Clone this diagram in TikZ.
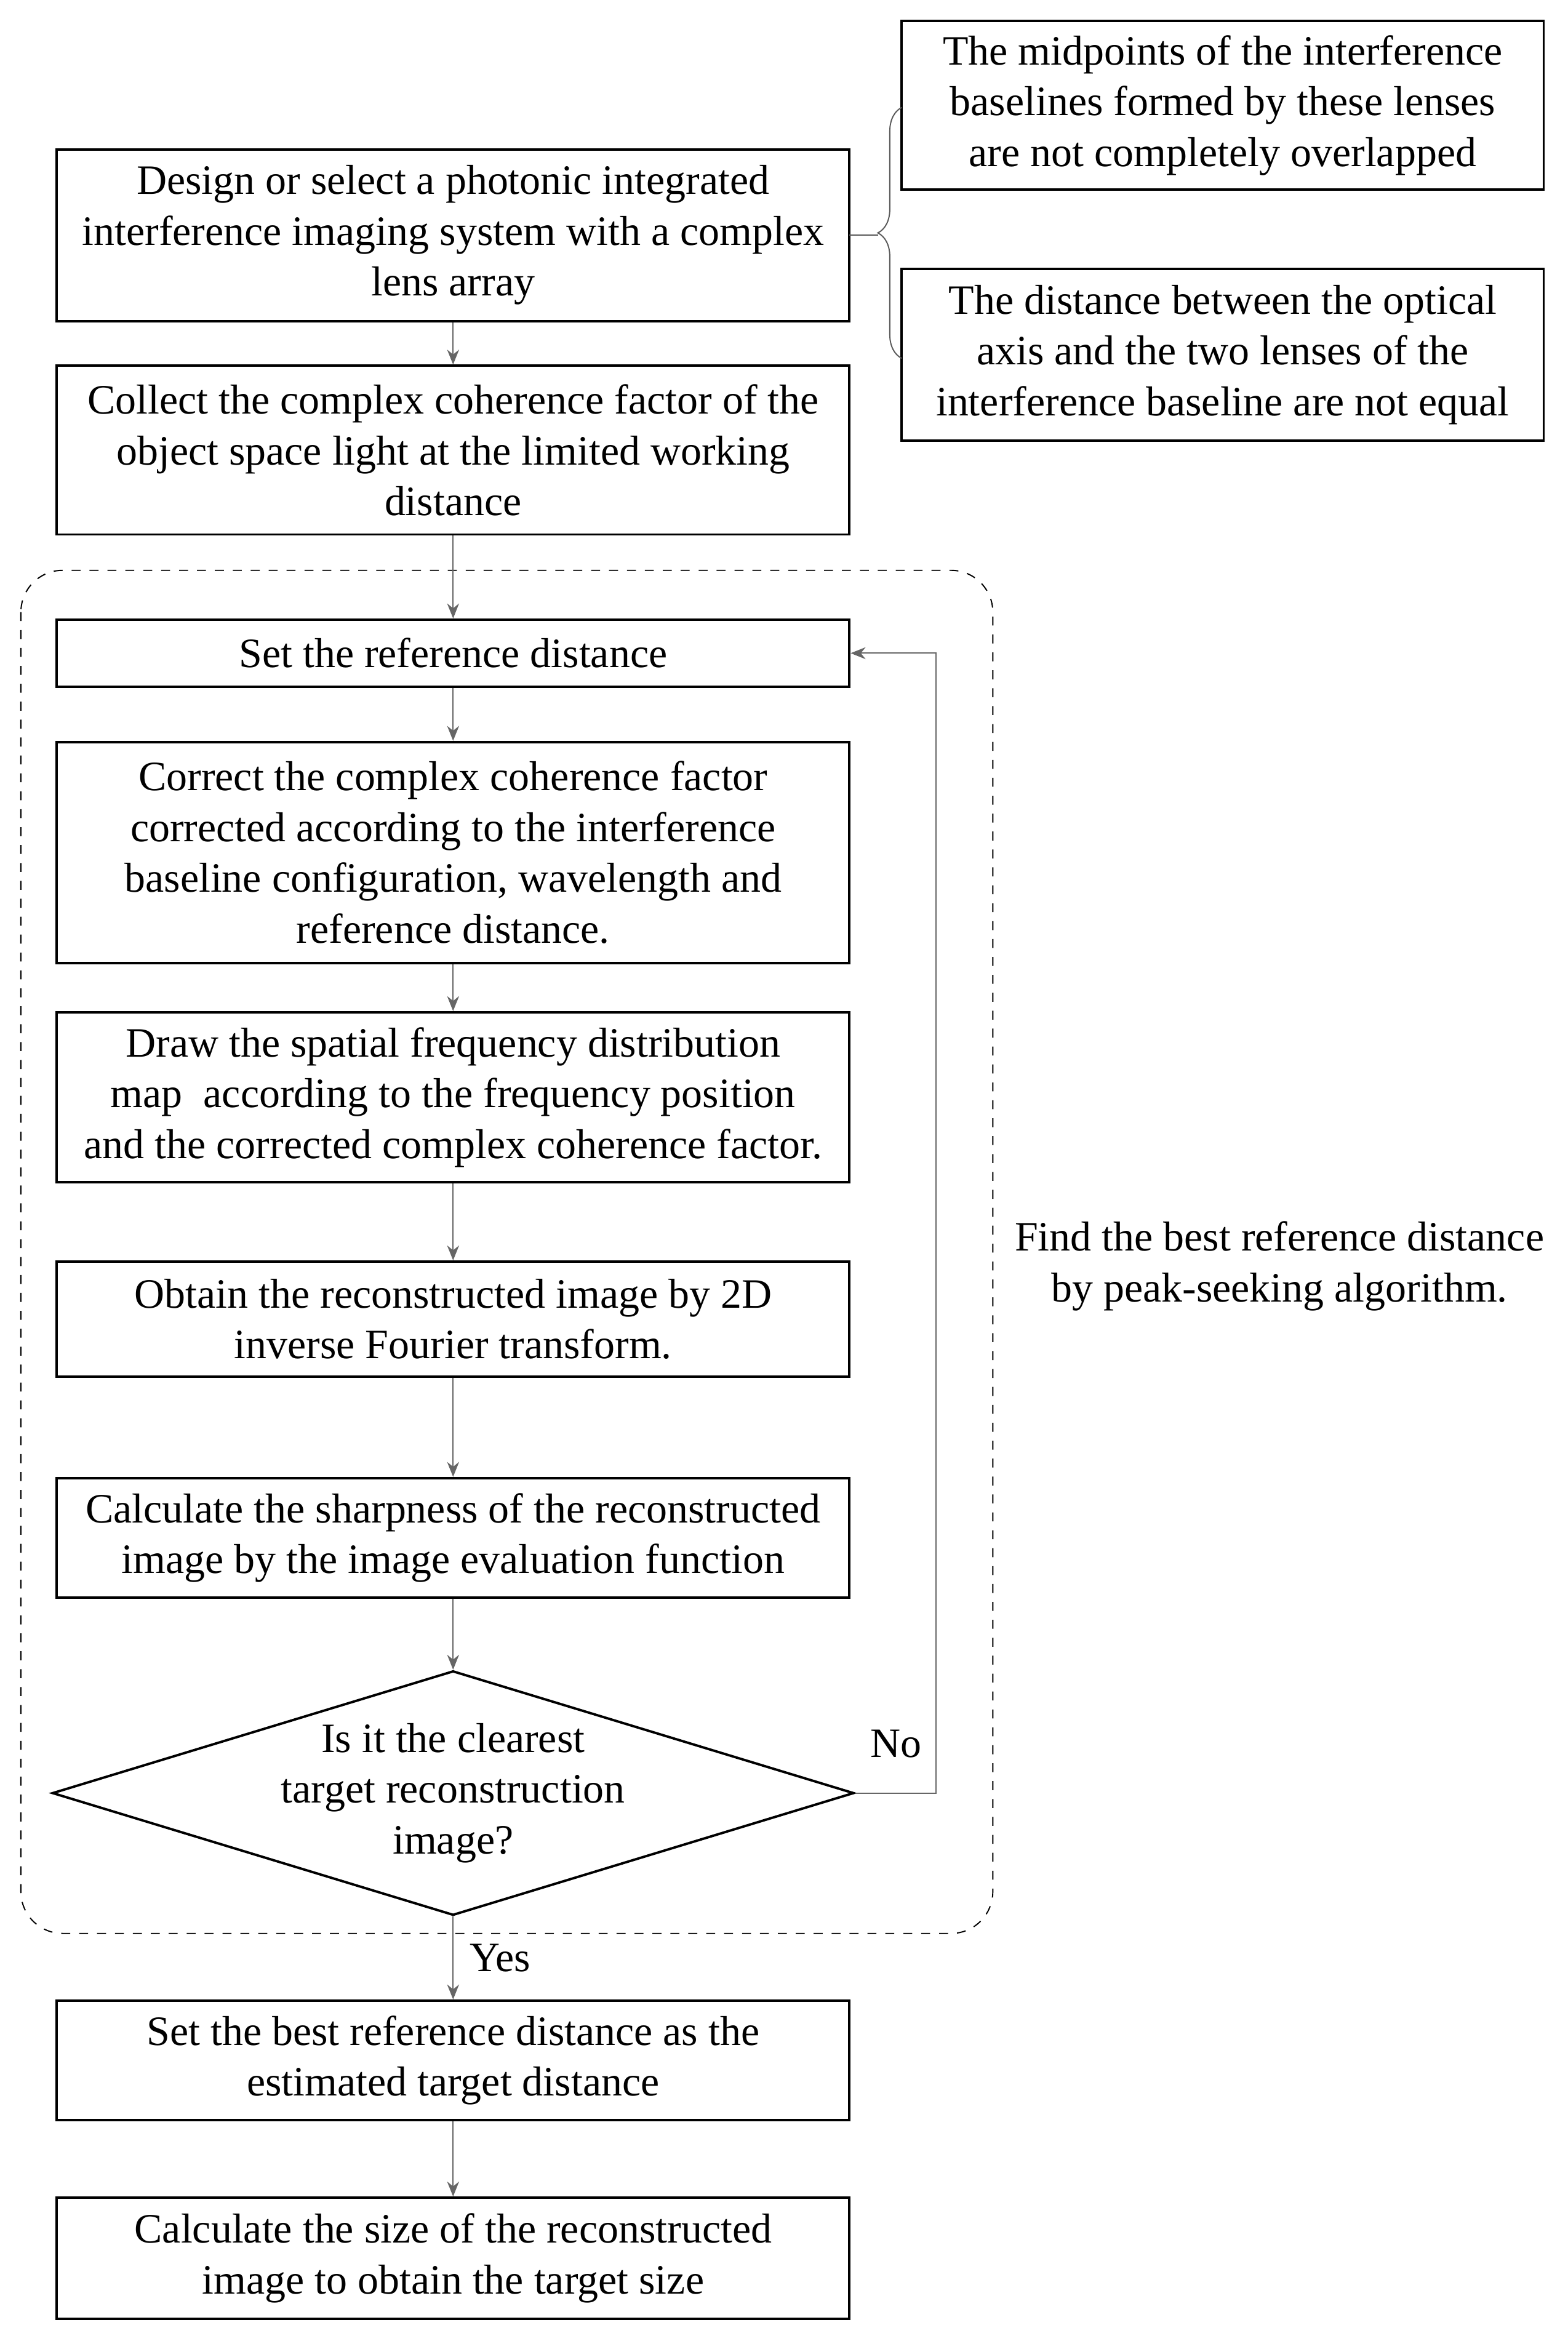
\documentclass[tikz,border=0pt]{standalone}
\usepackage{fontspec}
\setmainfont{Liberation Serif}
\usetikzlibrary{shapes.geometric,arrows.meta,decorations.pathreplacing}
\begin{document}
\begin{tikzpicture}[x=0.5pt,y=-0.5pt,
  box/.style={draw,thick,minimum width=265.5pt,align=center,font=\fontsize{14}{17}\selectfont,inner sep=2pt},
  rbox/.style={draw,thick,minimum width=215pt,align=center,font=\fontsize{14}{17}\selectfont,inner sep=2pt},
  arr/.style={draw=gray!80!black,-{Stealth[length=5pt,width=4pt]}},
  lbl/.style={font=\fontsize{14}{17}\selectfont,align=center}]
\useasboundingbox (0,0) rectangle (1050,1568);
\draw[dashed,rounded corners=14pt] (14,382) rectangle (665,1295);
\node[box,minimum height=57.5pt] (b1) at (303.5,157.5) {Design or select a photonic integrated\\interference imaging system with a complex\\lens array};
\node[rbox,minimum height=56.5pt] (ra) at (819,70.5) {The midpoints of the interference\\baselines formed by these lenses\\are not completely overlapped};
\node[rbox,minimum height=57.5pt] (rb) at (819,237.5) {The distance between the optical\\axis and the two lenses of the\\interference baseline are not equal};
\node[box,minimum height=56.5pt] (b2) at (303.5,301.5) {Collect the complex coherence factor of the\\object space light at the limited working\\distance};
\node[box,minimum height=22.5pt] (b3) at (303.5,437.5) {Set the reference distance};
\node[box,minimum height=74pt] (b4) at (303.5,571) {Correct the complex coherence factor\\corrected according to the interference\\baseline configuration, wavelength and\\reference distance.};
\node[box,minimum height=57pt] (b5) at (303.5,735) {Draw the spatial frequency distribution\\map\ \ according to the frequency position\\and the corrected complex coherence factor.};
\node[box,minimum height=38.5pt] (b6) at (303.5,883.5) {Obtain the reconstructed image by 2D\\inverse Fourier transform.};
\node[box,minimum height=40pt] (b7) at (303.5,1030) {Calculate the sharpness of the reconstructed\\image by the image evaluation function};
\node[draw,thick,diamond,aspect=3.28,minimum width=265.5pt,minimum height=81pt,inner sep=0pt,lbl] (d) at (303.5,1201) {Is it the clearest\\target reconstruction\\image?};
\node[box,minimum height=40pt] (b8) at (303.5,1380) {Set the best reference distance as the\\estimated target distance};
\node[box,minimum height=40.5pt] (b9) at (303.5,1512.5) {Calculate the size of the reconstructed\\image to obtain the target size};
\draw[arr] (b1) -- (b2);
\draw[arr] (b2) -- (b3);
\draw[arr] (b3) -- (b4);
\draw[arr] (b4) -- (b5);
\draw[arr] (b5) -- (b6);
\draw[arr] (b6) -- (b7);
\draw[arr] (b7) -- (d);
\draw[arr] (d) -- node[lbl,right,pos=0.5,xshift=2pt]{Yes} (b8);
\draw[arr] (b8) -- (b9);
\coordinate (n1) at (627,1201);
\coordinate (n2) at (627,437.5);
\draw[arr] (d.east) -- (n1) -- (n2) -- (b3.east);
\node[lbl] (no) at (600,1168) {No};
\node[lbl] (find) at (857,848) {Find the best reference distance\\by peak-seeking algorithm.};
\draw[gray!70!black,decorate,decoration={brace,amplitude=8pt,mirror}] (604,72) -- (604,240);
\draw[gray!70!black] (569,157.5) -- (588,157.5);
\end{tikzpicture}
\end{document}
